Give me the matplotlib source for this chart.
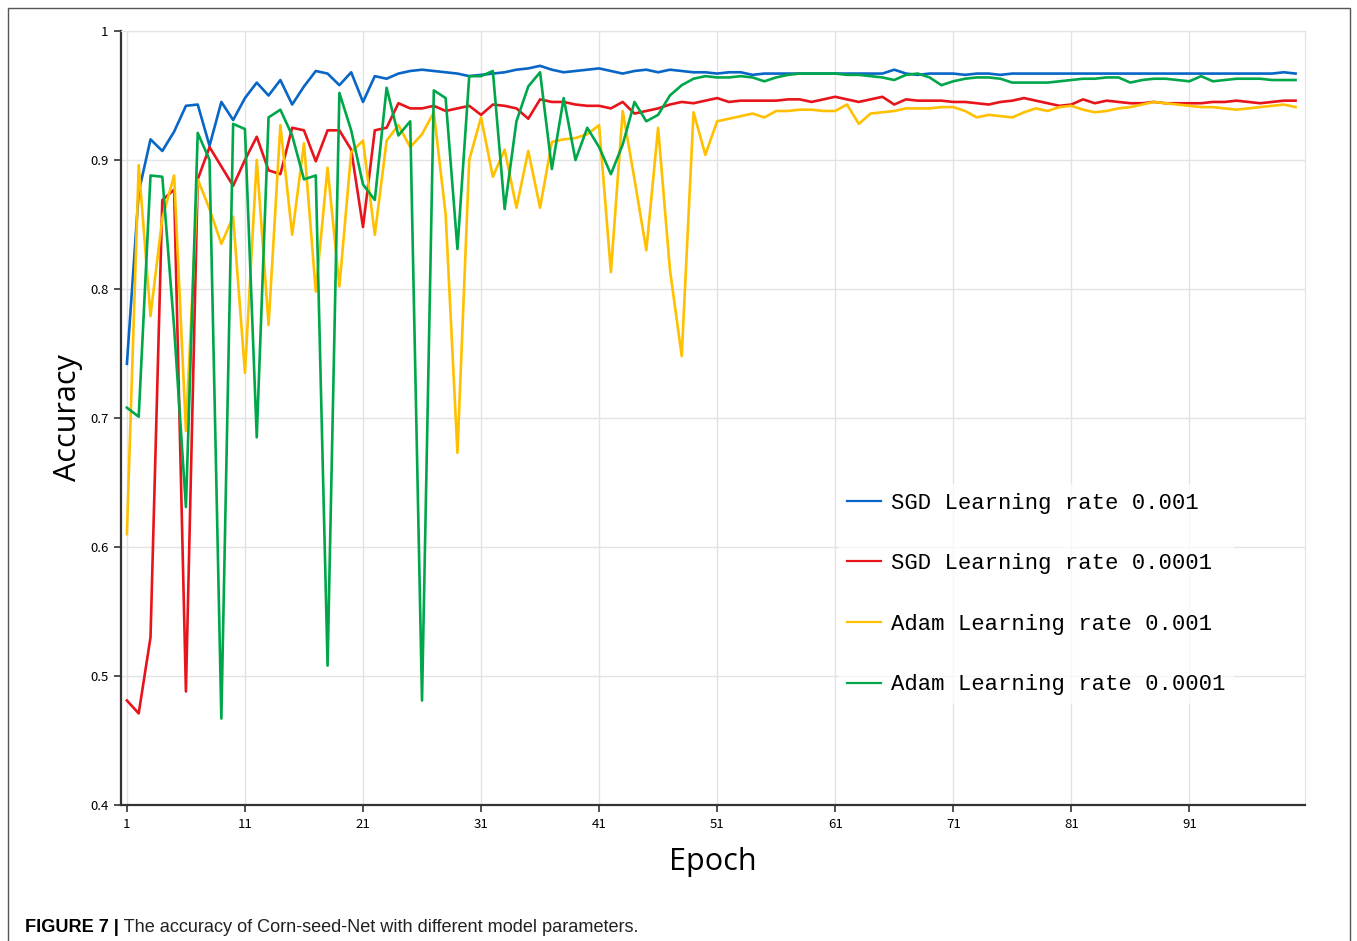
import numpy as np
import matplotlib
matplotlib.use("Agg")
import matplotlib.pyplot as plt
from matplotlib.patches import Rectangle

# Epochs 1..100
epochs = list(range(1, 101))

sgd_001 = [
    0.742, 0.875, 0.916, 0.907, 0.922, 0.942, 0.943, 0.911, 0.945, 0.931,
    0.948, 0.960, 0.950, 0.962, 0.943, 0.957, 0.969, 0.967, 0.958, 0.968,
    0.945, 0.965, 0.963, 0.967, 0.969, 0.970, 0.969, 0.968, 0.967, 0.965,
    0.966, 0.967, 0.968, 0.970, 0.971, 0.973, 0.970, 0.968, 0.969, 0.970,
    0.971, 0.969, 0.967, 0.969, 0.970, 0.968, 0.970, 0.969, 0.968, 0.968,
    0.967, 0.968, 0.968, 0.966, 0.967, 0.967, 0.967, 0.967, 0.967, 0.967,
    0.967, 0.967, 0.967, 0.967, 0.967, 0.970, 0.967, 0.966, 0.967, 0.967,
    0.967, 0.966, 0.967, 0.967, 0.966, 0.967, 0.967, 0.967, 0.967, 0.967,
    0.967, 0.967, 0.967, 0.967, 0.967, 0.967, 0.967, 0.967, 0.967, 0.967,
    0.967, 0.967, 0.967, 0.967, 0.967, 0.967, 0.967, 0.967, 0.968, 0.967,
]

sgd_0001 = [
    0.481, 0.471, 0.530, 0.869, 0.877, 0.488, 0.885, 0.910, 0.895, 0.880,
    0.900, 0.918, 0.892, 0.889, 0.925, 0.923, 0.899, 0.923, 0.923, 0.908,
    0.848, 0.923, 0.925, 0.944, 0.940, 0.940, 0.942, 0.938, 0.940, 0.942,
    0.935, 0.943, 0.942, 0.940, 0.932, 0.947, 0.945, 0.945, 0.943, 0.942,
    0.942, 0.940, 0.945, 0.936, 0.938, 0.940, 0.943, 0.945, 0.944, 0.946,
    0.948, 0.945, 0.946, 0.946, 0.946, 0.946, 0.947, 0.947, 0.945, 0.947,
    0.949, 0.947, 0.945, 0.947, 0.949, 0.943, 0.947, 0.946, 0.946, 0.946,
    0.945, 0.945, 0.944, 0.943, 0.945, 0.946, 0.948, 0.946, 0.944, 0.942,
    0.943, 0.947, 0.944, 0.946, 0.945, 0.944, 0.944, 0.945, 0.944, 0.944,
    0.944, 0.944, 0.945, 0.945, 0.946, 0.945, 0.944, 0.945, 0.946, 0.946,
]

adam_001 = [
    0.610, 0.896, 0.779, 0.855, 0.888, 0.690, 0.885, 0.862, 0.835, 0.856,
    0.735, 0.900, 0.772, 0.927, 0.842, 0.913, 0.798, 0.894, 0.802, 0.906,
    0.915, 0.842, 0.915, 0.927, 0.910, 0.920, 0.937, 0.858, 0.673, 0.900,
    0.933, 0.887, 0.908, 0.863, 0.907, 0.863, 0.914, 0.916, 0.917, 0.920,
    0.927, 0.813, 0.938, 0.885, 0.830, 0.925, 0.815, 0.748, 0.937, 0.904,
    0.930, 0.932, 0.934, 0.936, 0.933, 0.938, 0.938, 0.939, 0.939, 0.938,
    0.938, 0.943, 0.928, 0.936, 0.937, 0.938, 0.940, 0.940, 0.940, 0.941,
    0.941, 0.938, 0.933, 0.935, 0.934, 0.933, 0.937, 0.940, 0.938, 0.941,
    0.942, 0.939, 0.937, 0.938, 0.940, 0.941, 0.943, 0.945, 0.944, 0.943,
    0.942, 0.941, 0.941, 0.940, 0.939, 0.940, 0.941, 0.942, 0.943, 0.941,
]

adam_0001 = [
    0.708, 0.701, 0.888, 0.887, 0.770, 0.631, 0.921, 0.900, 0.467, 0.928,
    0.924, 0.685, 0.933, 0.939, 0.919, 0.885, 0.888, 0.508, 0.952, 0.923,
    0.881, 0.869, 0.956, 0.919, 0.930, 0.481, 0.954, 0.948, 0.831, 0.965,
    0.965, 0.969, 0.862, 0.930, 0.957, 0.968, 0.893, 0.948, 0.900, 0.925,
    0.910, 0.889, 0.912, 0.945, 0.930, 0.935, 0.950, 0.958, 0.963, 0.965,
    0.964, 0.964, 0.965, 0.964, 0.961, 0.964, 0.966, 0.967, 0.967, 0.967,
    0.967, 0.966, 0.966, 0.965, 0.964, 0.962, 0.966, 0.967, 0.964, 0.958,
    0.961, 0.963, 0.964, 0.964, 0.963, 0.960, 0.960, 0.960, 0.960, 0.961,
    0.962, 0.963, 0.963, 0.964, 0.964, 0.960, 0.962, 0.963, 0.963, 0.962,
    0.961, 0.965, 0.961, 0.962, 0.963, 0.963, 0.963, 0.962, 0.962, 0.962,
]

series_labels = [
    "SGD Learning rate 0.001",
    "SGD Learning rate 0.0001",
    "Adam Learning rate 0.001",
    "Adam Learning rate 0.0001",
]
series_colors = ["#0866C6", "#E8141B", "#FFC000", "#00A74A"]

x_ticks = [1, 11, 21, 31, 41, 51, 61, 71, 81, 91]
y_ticks = [0.4, 0.5, 0.6, 0.7, 0.8, 0.9, 1.0]
y_tick_labels = ["0.4", "0.5", "0.6", "0.7", "0.8", "0.9", "1"]

caption_bold = "FIGURE 7 |"
caption_text = " The accuracy of Corn-seed-Net with different model parameters."


def main():
    fig = plt.figure(figsize=(13.57, 9.41), dpi=100)
    ax = fig.add_axes([121 / 1357, 1 - 805 / 941, (1305 - 121) / 1357, (805 - 31) / 941])

    all_series = [sgd_001, sgd_0001, adam_001, adam_0001]
    for values, label, color in zip(all_series, series_labels, series_colors):
        ax.plot(epochs, values, color=color, lw=1.9, label=label,
                solid_joinstyle="round")

    ax.set_xlim(0.5, 100.8)
    ax.set_ylim(0.4, 1.0)
    ax.set_xticks(x_ticks)
    ax.set_xticklabels([str(t) for t in x_ticks], fontsize=9.5,
                       family="Noto Sans CJK SC")
    ax.set_yticks(y_ticks)
    ax.set_yticklabels(y_tick_labels, fontsize=9.5, family="Noto Sans CJK SC")
    ax.tick_params(axis="both", direction="out", length=5, width=1.2,
                   color="#333333", pad=4)

    ax.grid(True, color="#e3e3e3", lw=1.0)
    ax.set_axisbelow(True)
    for side in ["top", "right"]:
        ax.spines[side].set_color("#e3e3e3")
    for side in ["left", "bottom"]:
        ax.spines[side].set_color("#333333")
        ax.spines[side].set_linewidth(1.6)

    ax.set_xlabel("Epoch", fontsize=22, family="Open Sans", labelpad=12)
    ax.set_ylabel("Accuracy", fontsize=22, family="Open Sans", labelpad=5)

    leg = ax.legend(loc="upper left", bbox_to_anchor=(0.606, 0.415),
                    frameon=True, framealpha=0.75, edgecolor="none",
                    prop={"family": "Liberation Mono", "size": 16},
                    handlelength=1.5, handletextpad=0.45, labelspacing=1.78,
                    borderaxespad=0)
    for line in leg.get_lines():
        line.set_linewidth(1.6)

    # Outer frame of the figure panel
    fig.patches.append(Rectangle((8 / 1357, -0.02), 1342 / 1357, 1 - 8 / 941 + 0.02,
                                 transform=fig.transFigure, fill=False,
                                 edgecolor="#555555", lw=1.0))

    t = fig.text(25 / 1357, 1 - 927 / 941, caption_bold, fontsize=13.1,
                 family="Liberation Sans", weight="bold", va="center", ha="left")
    fig.canvas.draw()
    bb = t.get_window_extent()
    fig.text(bb.x1 / fig.bbox.width, 1 - 927 / 941, caption_text, fontsize=13.1,
             family="Liberation Sans", va="center", ha="left", color="#222222")

    fig.savefig("out.png", dpi=100)


if __name__ == "__main__":
    main()
